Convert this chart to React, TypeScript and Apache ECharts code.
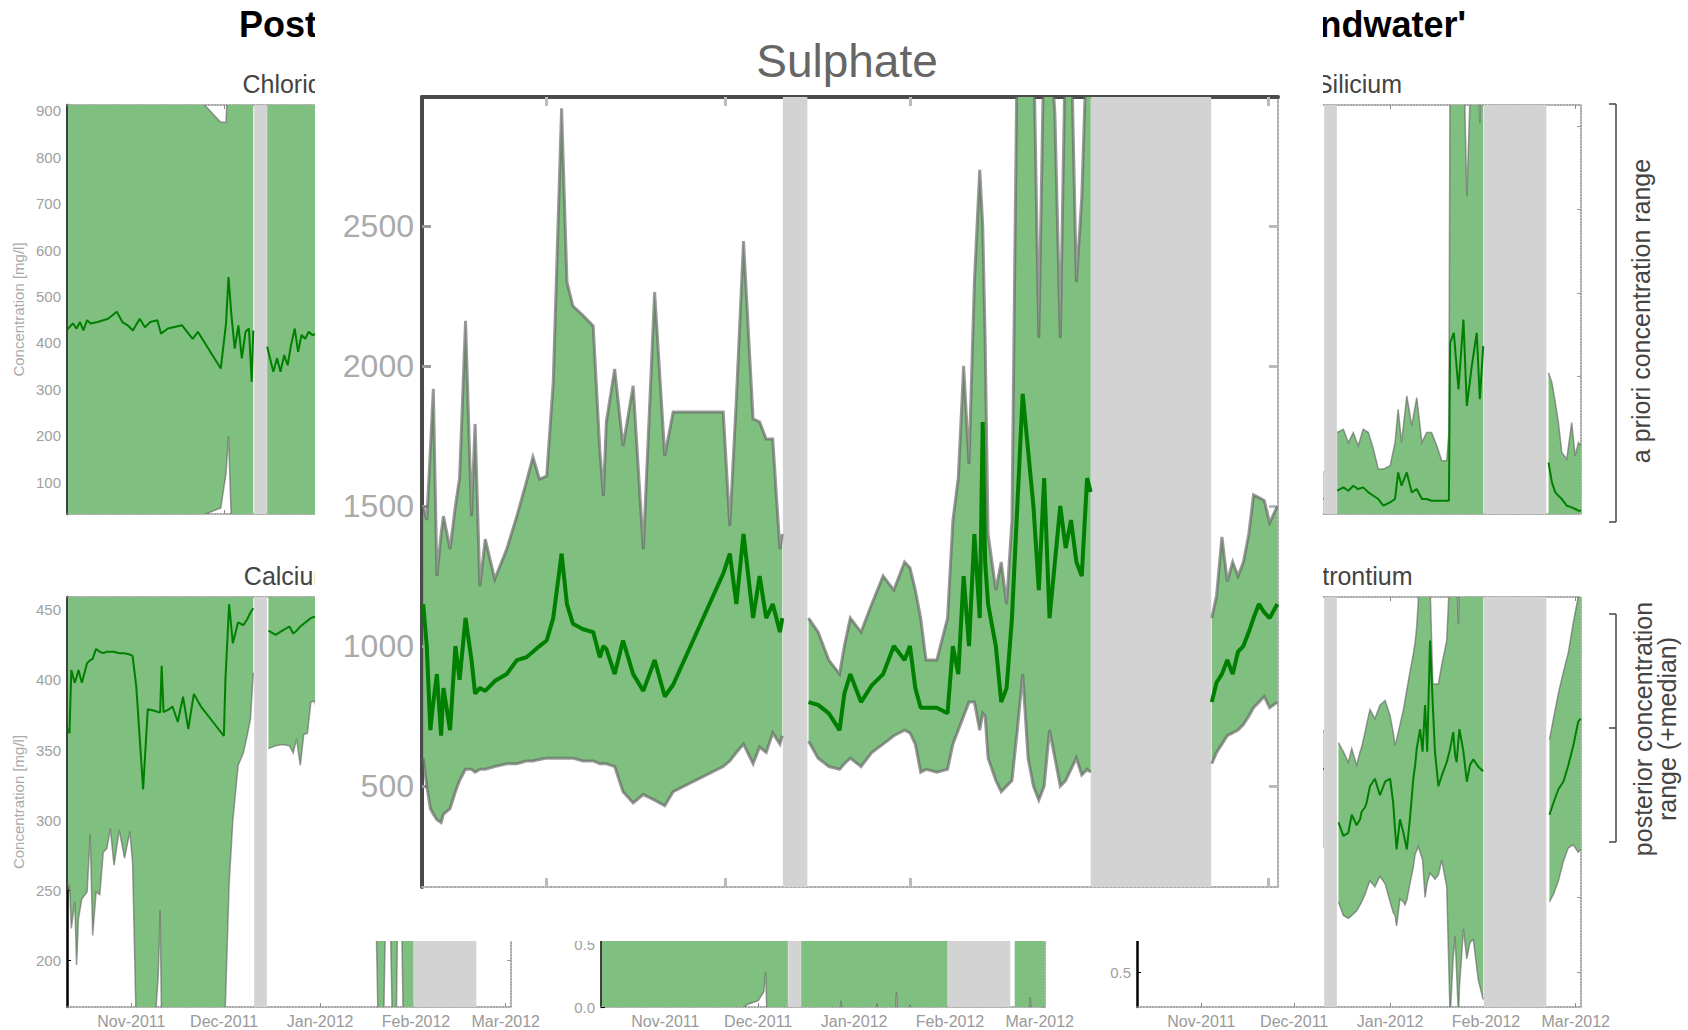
import React, { useEffect, useRef } from "react";
import * as echarts from "echarts";

const FONT = "'Liberation Sans', Arial, Helvetica, sans-serif";
const GREEN_FILL = "#7fbf7f";
const MEDIAN = "#008000";
const EDGE = "rgba(95,95,95,0.6)";
const GREY = "#d3d3d3";

// x axis: days since 2011-10-01
const xMin = 10.2;
const xMax = 153.7;
const monthDays = [31, 61, 92, 123, 152];
const monthLabels = ["Nov-2011", "Dec-2011", "Jan-2012", "Feb-2012", "Mar-2012"];
const greyStart = [70.7, 122.3];
const greyEnd = [74.8, 142.5];

// ---------------- Sulphate (overlay) ----------------
const sulTicks = [500, 1000, 1500, 2000, 2500];
const sulDays = [
  10.4, 11.0, 11.6, 12.1, 12.7, 13.4, 13.8, 14.9, 15.8, 16.5, 17.5, 18.5, 19.1, 19.9, 20.8, 22.4, 24.4, 26.1, 27.7, 28.8,
  29.9, 31.1, 32.2, 33.6, 34.5, 35.5, 37.2, 38.9, 40.0, 40.6, 41.1, 42.5, 43.9, 45.6, 47.3, 49.2, 50.9, 52.3, 60.7, 61.8,
  62.9, 64.1, 65.7, 66.8, 67.9, 69.0, 70.2, 70.6,
  72.7,
  75.0, 76.6, 78.4, 80.2, 81.0, 82.0, 83.8, 85.6, 87.5, 89.3, 91.1, 92.0, 92.9, 93.8, 94.7, 96.5, 98.3, 99.2, 100.1, 101.0,
  101.9, 102.8, 103.7, 104.2, 104.6, 105.1, 106.4, 107.3, 108.2, 109.1, 110.0, 110.9, 111.8, 112.7, 113.6, 114.5, 115.4,
  116.3, 117.2, 118.1, 119.0, 119.9, 120.8, 121.7, 122.3,
  132.0,
  142.6, 143.4, 144.3, 145.2, 146.1, 147.0, 147.9, 148.8, 149.6, 150.5, 151.4, 152.3, 153.6,
];
const sulLo = [
  600, 500, 420, 400, 380, 370, 400, 420, 480, 520, 560, 560, 550, 560, 560, 570, 580, 580, 590, 590,
  595, 600, 600, 600, 600, 600, 590, 590, 580, 580, 580, 570, 480, 440, 470, 450, 430, 480, 570, 590,
  620, 650, 580, 640, 620, 690, 650, 680,
  null,
  660, 600, 570, 560, 580, 600, 570, 620, 650, 680, 700, 690, 650, 550, 560, 550, 560, 650, 700, 750,
  800, 800, 700, 760, 750, 600, 520, 480, 500, 520, 700, 900, 600, 500, 450, 500, 700,
  600, 500, 520, 560, 600, 540, 560, 550,
  null,
  580, 620, 650, 680, 690, 700, 720, 750, 780, 800, 820, 780, 800,
];
const sulMed = [
  1150, 1000, 700, 800, 900, 680, 850, 700, 1000, 880, 1100, 950, 830, 850, 840, 875, 900, 950, 960, 980,
  1000, 1020, 1100, 1330, 1150, 1080, 1060, 1050, 960, 1000, 990, 900, 1020, 900, 840, 950, 820, 862, 1259, 1330,
  1150, 1400, 1100, 1250, 1100, 1150, 1050, 1100,
  null,
  800, 790, 760, 700, 830, 900, 800, 860, 900, 1000, 950, 1000, 850, 780, 780, 780, 760, 1000, 900, 1250,
  1000, 1400, 1100, 1800, 1300, 1150, 1000, 800, 850, 1100, 1500, 1900, 1700, 1500, 1200, 1600, 1100,
  1300, 1500, 1350, 1450, 1300, 1250, 1600, 1550,
  null,
  800, 870, 900, 950, 900, 980, 1000, 1050, 1100, 1150, 1120, 1100, 1150,
];
const sulHi = [
  1500, 1450, 1700, 1918, 1250, 1400, 1464, 1346, 1500, 1600, 2161, 1464, 1793, 1214, 1382, 1239, 1346, 1464, 1586, 1675,
  1596, 1607, 1943, 2920, 2300, 2214, 2180, 2143, 1704, 1536, 1800, 1989, 1714, 1929, 1346, 2264, 1679, 1836, 1836, 1429,
  1882, 2446, 1811, 1800, 1739, 1739, 1346, 1400,
  null,
  1100, 1050, 950, 900, 1000, 1100, 1050, 1150, 1250, 1200, 1300, 1280, 1200, 1100, 950, 950, 1100, 1450, 1600, 2000,
  1650, 2300, 2700, 2500, 2100, 1400, 1200, 1300, 1150, 1450, 3200, 3200, 3200, 3200, 2100, 3200, 3200,
  2900, 2100, 3200, 3200, 2300, 2600, 3200, 3200,
  null,
  1100, 1180, 1390, 1230, 1300, 1250, 1300, 1400, 1540, 1530, 1520, 1440, 1500,
];

// ---------------- Chloride ----------------
const chlTicks = [100, 200, 300, 400, 500, 600, 700, 800, 900];
const chlDays = [
  10.4, 11.0, 12.1, 13.3, 14.4, 15.5, 16.7, 17.8, 20.1, 23.5, 26.3, 28.1, 29.8, 31.5, 33.7, 35.4, 37.1, 39.4, 40.6, 42.8,
  47.4, 50.8, 52.5, 54.2, 59.9, 61.6, 62.4, 63.3, 64.4, 65.6, 66.7, 67.9, 69.0, 69.9, 70.4,
  72.7,
  74.9, 75.8, 76.9, 78.1, 79.2, 80.4, 81.5, 82.6, 83.8, 84.9, 86.0, 87.2, 88.3, 89.5, 91.0,
];
const chlLo = [
  20, 20, 20, 20, 20, 20, 20, 20, 20, 20, 20, 20, 20, 20, 20, 20, 20, 20, 20, 20,
  20, 20, 20, 30, 45, 120, 200, 20, 20, 20, 20, 20, 20, 20, 20,
  null,
  20, 20, 20, 20, 20, 20, 20, 20, 20, 20, 20, 20, 20, 20, 20,
];
const chlMed = [
  430, 434, 442, 431, 445, 427, 449, 442, 445, 452, 467, 445, 438, 427, 452, 434, 445, 449, 420, 431,
  438, 409, 424, 406, 345, 442, 542, 463, 388, 438, 367, 424, 431, 316, 427,
  null,
  392, 367, 338, 367, 338, 374, 352, 395, 431, 381, 417, 409, 424, 417, 420,
];
const chlHi = [
  1000, 1000, 1000, 1000, 1000, 1000, 1000, 1000, 1000, 1000, 1000, 1000, 1000, 1000, 1000, 1000, 1000, 1000, 1000, 1000,
  1000, 1000, 1000, 915, 875, 875, 1000, 1000, 1000, 1000, 1000, 1000, 1000, 1000, 1000,
  null,
  1000, 1000, 1000, 1000, 1000, 1000, 1000, 1000, 1000, 1000, 1000, 1000, 1000, 1000, 1000,
];

// ---------------- Calcium ----------------
const calTicks = [200, 250, 300, 350, 400, 450];
const calDays = [
  10.4, 11.0, 11.6, 12.7, 13.3, 13.9, 15.0, 16.7, 17.7, 18.5, 19.6, 20.8, 21.9, 23.1, 24.2, 25.4, 27.1, 28.8, 30.5, 31.4,
  32.6, 34.8, 36.3, 38.5, 39.7, 40.3, 40.8, 41.4, 43.1, 44.3, 46.0, 47.7, 49.4, 51.2, 53.5, 60.9, 61.4, 62.6, 63.8, 65.5,
  67.2, 68.4, 69.5, 70.4,
  72.7,
  75.3, 77.6, 79.8, 82.1, 83.3, 84.4, 85.6, 86.7, 87.9, 89.0, 90.2, 93.0, 97.0, 101.0, 105.0, 108.0, 110.0, 110.8, 112.5, 113.2,
  114.6, 115.4, 116.6, 117.1, 118.3, 118.9, 122.2,
  132.0,
  142.6, 146.0, 150.0, 153.6,
];
const calLo = [
  250, 254, 223, 242, 197, 230, 244, 249, 290, 218, 249, 247, 277, 280, 294, 268, 293, 273, 292, 270,
  150, 150, 150, 150, 190, 236, 150, 150, 150, 150, 160, 150, 160, 150, 160, 150, 170, 255, 300, 339,
  348, 360, 372, 405,
  null,
  351, 353, 354, 353, 348, 358, 339, 361, 362, 384, 385, 360, 340, 320, 300, 280, 240, 150, 150, 240,
  240, 150, 150, 240, 240, 150, 150,
  null,
  330, 320, 310, 300,
];
const calMed = [
  365, 362, 407, 398, 402, 407, 398, 412, 414, 415, 422, 420, 419, 420, 420, 420, 419, 419, 418, 417,
  395, 322, 379, 378, 377, 377, 410, 377, 379, 381, 370, 388, 365, 390, 381, 360, 400, 454, 426, 441,
  439, 443, 448, 451,
  null,
  435, 432, 435, 438, 433, 435, 438, 440, 442, 444, 445, 440, 438, 436, 440, 442, 440, 440, 442, 440,
  438, 436, 440, 438, 440, 442, 445,
  null,
  440, 438, 442, 445,
];
const calHi = [
  480, 480, 480, 480, 480, 480, 480, 480, 480, 480, 480, 480, 480, 480, 480, 480, 480, 480, 480, 480,
  480, 480, 480, 480, 480, 480, 480, 480, 480, 480, 480, 480, 480, 480, 480, 480, 480, 480, 480, 480,
  480, 480, 480, 480,
  null,
  480, 480, 480, 480, 480, 480, 480, 480, 480, 480, 480, 480, 480, 480, 480, 480, 480, 480, 480, 480,
  480, 480, 480, 480, 480, 480, 480,
  null,
  480, 480, 480, 480,
];

// ---------------- middle lower panel ----------------
const midTicks = [0, 0.5, 1.0, 1.5, 2.0, 2.5, 3.0];
const midDays = [
  10.4, 54.0, 57.5, 61.0, 62.8, 63.4, 63.8, 70.6,
  72.7,
  74.9, 87.4, 87.8, 88.2, 99.0, 99.4, 99.8, 105.3, 105.7, 106.1, 109.7, 110.0, 110.3, 122.2,
  132.0,
  143.9, 148.5, 148.9, 149.3, 153.6,
];
const midLo = [
  -0.05, -0.05, 0.02, 0.05, 0.12, 0.28, -0.05, -0.05,
  null,
  -0.05, -0.05, 0.05, -0.05, -0.05, 0.03, -0.05, -0.05, 0.12, -0.05, -0.05, 0.02, -0.05, -0.05,
  null,
  -0.05, -0.05, 0.08, -0.05, -0.05,
];
const midMed = [
  1.3, 1.2, 1.1, 1.0, 1.2, 1.4, 1.1, 1.2,
  null,
  1.1, 1.0, 1.2, 1.1, 0.9, 1.0, 1.1, 1.2, 1.3, 1.1, 1.0, 1.1, 1.2, 1.1,
  null,
  1.0, 1.1, 1.2, 1.1, 1.0,
];
const midHi = [
  3.0, 2.8, 2.5, 2.2, 2.4, 2.9, 2.6, 2.8,
  null,
  2.4, 2.2, 2.5, 2.3, 2.1, 2.2, 2.4, 2.6, 2.8, 2.5, 2.3, 2.4, 2.6, 2.5,
  null,
  2.2, 2.4, 2.5, 2.3, 2.2,
];

// ---------------- Silicium ----------------
const siTicks = [5, 10, 15, 20, 25];
const siDays = [
  60.0, 66.0, 70.5,
  72.7,
  74.9, 76.9, 78.5, 80.1, 81.7, 83.3, 85.0, 86.6, 88.2, 89.8, 92.0, 93.6, 94.6, 95.7, 97.4, 99.0, 100.6, 102.3, 103.8, 105.4,
  107.1, 108.7, 110.3, 111.0, 111.4, 112.6, 114.1, 115.7, 116.8, 118.4, 120.0, 121.0, 122.1,
  132.0,
  143.2, 144.3, 145.4, 146.4, 147.5, 149.1, 150.7, 151.8, 152.9, 153.7,
];
const siLo = [
  1.0, 1.0, 1.0,
  null,
  1.0, 1.0, 1.0, 1.0, 1.0, 1.0, 1.0, 1.0, 1.0, 1.0, 1.0, 1.0, 1.0, 1.0, 1.0, 1.0, 1.0, 1.0, 1.0, 1.0,
  1.0, 1.0, 1.0, 1.0, 1.0, 1.0, 1.0, 1.0, 1.0, 1.0, 1.0, 1.0, 1.0,
  null,
  1.0, 1.0, 1.0, 1.0, 1.0, 1.0, 1.0, 1.0, 1.0, 1.0,
];
const siMed = [
  3.0, 2.8, 2.6,
  null,
  3.1, 3.3, 3.1, 3.4, 3.2, 3.3, 3.0, 2.8, 2.6, 2.2, 2.4, 2.6, 4.2, 3.4, 4.2, 3.0, 3.2, 2.6, 2.6, 2.5,
  2.5, 2.5, 2.5, 2.5, 12.0, 12.6, 9.2, 13.4, 8.2, 10.6, 12.6, 8.6, 11.8,
  null,
  4.8, 3.6, 3.0, 2.8, 2.6, 2.2, 2.1, 2.0, 1.9, 1.9,
];
const siHi = [
  6.5, 5.0, 4.2,
  null,
  6.6, 6.8, 6.0, 6.6, 5.8, 6.8, 6.6, 5.6, 4.4, 4.4, 4.6, 6.0, 8.0, 6.0, 8.8, 7.0, 8.7, 6.0, 6.6, 6.6,
  5.8, 4.9, 4.9, 6.6, 30, 30, 30, 30, 20.8, 30, 30, 25.2, 30,
  null,
  10.2, 9.6, 8.4, 7.2, 5.4, 5.0, 7.2, 5.2, 6.0, 5.8,
];

// ---------------- Strontium ----------------
const srTicks = [0.5, 1.0, 1.5, 2.0, 2.5, 3.0];
const srDays = [
  60.0, 66.0, 70.5,
  72.7,
  75.3, 76.9, 78.5, 79.6, 81.2, 82.3, 82.8, 83.9, 84.4, 85.5, 87.1, 88.7, 90.4, 92.0, 93.0, 93.6, 94.1, 95.2, 96.3, 96.8,
  97.4, 98.4, 99.5, 100.1, 100.6, 101.1, 101.7, 102.5, 103.3, 104.0, 104.9, 105.8, 106.5, 107.6, 108.7, 110.3, 111.4, 112.4,
  113.0, 113.5, 114.1, 114.4, 115.7, 116.8, 117.8, 118.9, 120.5, 122.1,
  132.0,
  143.5, 144.8, 146.4, 148.0, 149.6, 151.2, 152.8, 153.6,
];
const srLo = [
  1.2, 1.25, 1.34,
  null,
  0.97, 0.88, 0.86, 0.88, 0.91, 0.95, 0.97, 1.02, 1.05, 1.11, 1.07, 1.14, 1.09, 0.97, 0.9, 0.88, 0.81, 0.99, 0.97, 0.95,
  0.98, 1.09, 1.2, 1.29, 1.31, 1.34, 1.3, 1.25, 1.0, 1.1, 1.16, 1.14, 1.12, 1.15, 1.25, 1.07, 0.2, 0.6,
  0.74, 0.5, 0.2, 0.4, 0.79, 0.59, 0.7, 0.72, 0.45, 0.32,
  null,
  0.97, 1.02, 1.11, 1.24, 1.33, 1.35, 1.3, 1.32,
];
const srMed = [
  1.9, 1.95, 1.85,
  null,
  1.5, 1.41, 1.43, 1.55, 1.48, 1.52, 1.57, 1.6, 1.63, 1.74, 1.79, 1.68, 1.77, 1.79, 1.63, 1.45, 1.32, 1.52, 1.43, 1.38,
  1.32, 1.52, 1.79, 1.88, 1.99, 2.05, 2.12, 1.97, 2.28, 1.97, 2.71, 2.28, 1.97, 1.74, 1.81, 1.9, 1.99, 2.1,
  1.95, 1.9, 2.05, 2.12, 1.97, 1.77, 1.88, 1.92, 1.87, 1.84,
  null,
  1.55, 1.63, 1.72, 1.77, 1.88, 2.01, 2.17, 2.19,
];
const srHi = [
  2.4, 2.3, 2.1,
  null,
  2.03, 1.97, 1.9, 1.99, 1.88, 1.97, 2.0, 2.1, 2.15, 2.25, 2.19, 2.28, 2.31, 2.21, 2.1, 2.01, 2.05, 2.15, 2.25, 2.31,
  2.38, 2.5, 2.62, 2.7, 2.8, 2.97, 3.2, 3.2, 3.2, 3.2, 3.1, 2.42, 2.42, 2.42, 2.55, 2.71, 3.2, 3.2,
  3.2, 3.1, 2.82, 3.2, 3.2, 3.2, 3.2, 3.2, 3.2, 3.2,
  null,
  2.05, 2.19, 2.36, 2.5, 2.63, 2.83, 3.0, 3.1,
];

// ---------------- helpers ----------------
type Num = number | null;

function splitSegments(days: number[], lo: Num[], hi: Num[]) {
  const segs: number[][][] = [];
  let cur: number[][] = [];
  days.forEach((d, i) => {
    if (lo[i] == null || hi[i] == null) {
      if (cur.length) segs.push(cur);
      cur = [];
    } else {
      cur.push([d, lo[i] as number, hi[i] as number]);
    }
  });
  if (cur.length) segs.push(cur);
  return segs;
}

function bandSeries(days: number[], lo: Num[], hi: Num[], xi: number, yi: number, edgeW: number, edgeColor: string) {
  const segs = splitSegments(days, lo, hi);
  return {
    type: "custom",
    xAxisIndex: xi,
    yAxisIndex: yi,
    silent: true,
    clip: true,
    z: 2,
    encode: { x: 0, y: 1 },
    data: segs.map((s) => [s[0][0], s[0][1]]),
    renderItem: (params: any, api: any) => {
      const s = segs[params.dataIndex];
      const top = s.map((r) => api.coord([r[0], r[2]]));
      const bot = s.map((r) => api.coord([r[0], r[1]]));
      const poly = top.concat(bot.slice().reverse());
      return {
        type: "group",
        children: [
          { type: "polygon", shape: { points: poly }, style: { fill: GREEN_FILL, stroke: "none" } },
          { type: "polyline", shape: { points: top }, style: { stroke: edgeColor, lineWidth: edgeW, fill: "none" } },
          { type: "polyline", shape: { points: bot }, style: { stroke: edgeColor, lineWidth: edgeW, fill: "none" } },
        ],
      };
    },
  };
}

function medianSeries(days: number[], med: Num[], xi: number, yi: number, width: number) {
  return {
    type: "line",
    xAxisIndex: xi,
    yAxisIndex: yi,
    silent: true,
    clip: true,
    z: 3,
    symbol: "none",
    connectNulls: false,
    lineStyle: { color: MEDIAN, width },
    data: days.map((d, i) => [d, med[i] == null ? "-" : med[i]]),
    markArea: {
      silent: true,
      itemStyle: { color: GREY },
      data: greyStart.map((a, k) => [{ xAxis: a }, { xAxis: greyEnd[k] }]),
    },
  };
}

const monthFmt = (v: number) => {
  const k = monthDays.indexOf(Math.round(v));
  return k >= 0 ? monthLabels[k] : "";
};

// ---------------- background figure ----------------
const colLeft = [67, 601, 1137];
const colWidth = 444;
const rowTop = [105, 597];
const rowHeight = [409, 410];

const panels = [
  { title: "Chloride", col: 0, row: 0, min: 32, max: 912, ticks: chlTicks, digits: 0, yLabels: true, xLabels: false, days: chlDays, lo: chlLo, med: chlMed, hi: chlHi },
  { title: "Calcium", col: 0, row: 1, min: 167, max: 459, ticks: calTicks, digits: 0, yLabels: true, xLabels: true, days: calDays, lo: calLo, med: calMed, hi: calHi },
  { title: "", col: 1, row: 1, min: 0, max: 3.26, ticks: midTicks, digits: 1, yLabels: true, xLabels: true, days: midDays, lo: midLo, med: midMed, hi: midHi },
  { title: "Silicium", col: 2, row: 0, min: 1.7, max: 26.3, ticks: siTicks, digits: 0, yLabels: false, xLabels: false, days: siDays, lo: siLo, med: siMed, hi: siHi },
  { title: "Strontium", col: 2, row: 1, min: 0.27, max: 3.0, ticks: srTicks, digits: 1, yLabels: true, xLabels: true, days: srDays, lo: srLo, med: srMed, hi: srHi },
];

function buildBackground() {
  const grid: any[] = [];
  const xAxis: any[] = [];
  const yAxis: any[] = [];
  const series: any[] = [];
  const elements: any[] = [];
  const dotted = { color: "#8a8a8a", width: 1.5, type: "dotted" };

  panels.forEach((p, i) => {
    grid.push({
      left: colLeft[p.col],
      top: rowTop[p.row],
      width: colWidth,
      height: rowHeight[p.row],
      containLabel: false,
      outerBoundsMode: "none",
      show: false,
    });
    xAxis.push({
      type: "value", gridIndex: i, min: xMin, max: xMax, position: "bottom",
      axisLine: { show: true, onZero: false, lineStyle: dotted },
      axisTick: { show: true, inside: true, length: 4, customValues: monthDays, lineStyle: { color: "#888" } },
      axisLabel: { show: p.xLabels, customValues: monthDays, formatter: monthFmt, color: "#999", fontSize: 16, fontFamily: FONT, margin: 6 },
      splitLine: { show: false },
    });
    xAxis.push({
      type: "value", gridIndex: i, min: xMin, max: xMax, position: "top",
      axisLine: { show: true, onZero: false, lineStyle: dotted },
      axisTick: { show: true, inside: true, length: 4, customValues: monthDays, lineStyle: { color: "#888" } },
      axisLabel: { show: false },
      splitLine: { show: false },
    });
    yAxis.push({
      type: "value", gridIndex: i, min: p.min, max: p.max, position: "left",
      axisLine: { show: true, onZero: false, lineStyle: { color: "#000", width: 2.5 } },
      axisTick: { show: true, inside: true, length: 4, customValues: p.ticks, lineStyle: { color: "#000" } },
      axisLabel: {
        show: p.yLabels, customValues: p.ticks, color: "#a0a0a0", fontSize: 15, fontFamily: FONT, margin: 6,
        formatter: (v: number) => v.toFixed(p.digits),
      },
      splitLine: { show: false },
    });
    yAxis.push({
      type: "value", gridIndex: i, min: p.min, max: p.max, position: "right",
      axisLine: { show: true, onZero: false, lineStyle: dotted },
      axisTick: { show: true, inside: true, length: 4, customValues: p.ticks, lineStyle: { color: "#999" } },
      axisLabel: { show: false },
      splitLine: { show: false },
    });
    series.push(bandSeries(p.days, p.lo, p.hi, 2 * i, 2 * i, 1.5, EDGE));
    series.push(medianSeries(p.days, p.med, 2 * i, 2 * i, 2));

    if (p.title) {
      elements.push({
        type: "text",
        x: colLeft[p.col] + colWidth / 2,
        y: p.row === 0 ? 84 : 576,
        style: { text: p.title, fontSize: 25, fontFamily: FONT, fill: "#444", align: "center", verticalAlign: "middle", textAlign: "center", textVerticalAlign: "middle" },
      });
    }
    if (p.col === 0) {
      elements.push({
        type: "text",
        x: 18,
        y: rowTop[p.row] + rowHeight[p.row] / 2,
        rotation: Math.PI / 2,
        style: { text: "Concentration [mg/l]", fontSize: 15, fontFamily: FONT, fill: "#aaa", align: "center", verticalAlign: "middle", textAlign: "center", textVerticalAlign: "middle" },
      });
    }
  });

  // figure title (its middle is covered by the zoomed panel)
  elements.push({
    type: "text", x: 239, y: 24,
    style: { text: "Posterior concentration", fontSize: 36, fontWeight: "bold", fontFamily: FONT, fill: "#000", align: "left", verticalAlign: "middle", textAlign: "left", textVerticalAlign: "middle" },
  });
  elements.push({
    type: "text", x: 1466, y: 24,
    style: { text: "ranges for 'groundwater'", fontSize: 36, fontWeight: "bold", fontFamily: FONT, fill: "#000", align: "right", verticalAlign: "middle", textAlign: "right", textVerticalAlign: "middle" },
  });

  // right-hand annotation brackets
  const bx = 1616;
  const lineStyle = { stroke: "#444", lineWidth: 1.5 };
  const addLine = (x1: number, y1: number, x2: number, y2: number) =>
    elements.push({ type: "line", shape: { x1, y1, x2, y2 }, style: lineStyle });
  addLine(bx, 104, bx, 522);
  addLine(bx - 7, 104, bx, 104);
  addLine(bx - 7, 522, bx, 522);
  addLine(bx, 614, bx, 842);
  addLine(bx - 7, 614, bx, 614);
  addLine(bx - 7, 842, bx, 842);
  addLine(bx - 7, 728, bx, 728);
  const rotText = (text: string, x: number, y: number) =>
    elements.push({
      type: "text", x, y, rotation: Math.PI / 2,
      style: { text, fontSize: 25, fontFamily: FONT, fill: "#444", align: "center", verticalAlign: "middle", textAlign: "center", textVerticalAlign: "middle" },
    });
  rotText("a priori concentration range", 1641, 311);
  rotText("posterior concentration", 1643, 729);
  rotText("range (+median)", 1667, 729);

  return {
    animation: false,
    backgroundColor: "#fff",
    grid, xAxis, yAxis, series,
    graphic: { elements },
  };
}

// ---------------- Sulphate overlay ----------------
function buildOverlay() {
  const dark = { color: "#4a4a4a", width: 4 };
  const light = { color: "#aaa", width: 2, type: "dotted" };
  return {
    animation: false,
    backgroundColor: "#fff",
    grid: { left: 107, top: 97, width: 856, height: 790, containLabel: false, outerBoundsMode: "none", show: false },
    xAxis: [
      {
        type: "value", min: xMin, max: xMax, position: "bottom",
        axisLine: { show: true, onZero: false, lineStyle: light },
        axisTick: { show: true, inside: true, length: 9, customValues: monthDays, lineStyle: { color: "#bbb", width: 3 } },
        axisLabel: { show: false },
        splitLine: { show: false },
      },
      {
        type: "value", min: xMin, max: xMax, position: "top",
        axisLine: { show: true, onZero: false, lineStyle: dark },
        axisTick: { show: true, inside: true, length: 9, customValues: monthDays, lineStyle: { color: "#bbb", width: 3 } },
        axisLabel: { show: false },
        splitLine: { show: false },
      },
    ],
    yAxis: [
      {
        type: "value", min: 140, max: 2960, position: "left",
        axisLine: { show: true, onZero: false, lineStyle: dark },
        axisTick: { show: true, inside: true, length: 9, customValues: sulTicks, lineStyle: { color: "#999", width: 3 } },
        axisLabel: {
          show: true, customValues: sulTicks, color: "#aaa", fontSize: 32, fontFamily: FONT, margin: 8,
          formatter: (v: number) => String(Math.round(v)),
        },
        splitLine: { show: false },
      },
      {
        type: "value", min: 140, max: 2960, position: "right",
        axisLine: { show: true, onZero: false, lineStyle: light },
        axisTick: { show: true, inside: true, length: 9, customValues: sulTicks, lineStyle: { color: "#bbb", width: 3 } },
        axisLabel: { show: false },
        splitLine: { show: false },
      },
    ],
    series: [
      bandSeries(sulDays, sulLo, sulHi, 0, 0, 3, "rgba(100,100,100,0.65)"),
      medianSeries(sulDays, sulMed, 0, 0, 4),
    ],
    graphic: {
      elements: [
        {
          type: "text", x: 532, y: 61,
          style: { text: "Sulphate", fontSize: 46, fontFamily: FONT, fill: "#666", align: "center", verticalAlign: "middle", textAlign: "center", textVerticalAlign: "middle" },
        },
      ],
    },
  };
}

export default function App() {
  const bgRef = useRef<HTMLDivElement>(null);
  const ovRef = useRef<HTMLDivElement>(null);
  useEffect(() => {
    document.body.style.margin = "0";
    const bg = echarts.init(bgRef.current as HTMLDivElement, undefined, { renderer: "svg" });
    bg.setOption(buildBackground() as any);
    const ov = echarts.init(ovRef.current as HTMLDivElement, undefined, { renderer: "svg" });
    ov.setOption(buildOverlay() as any);
    return () => {
      bg.dispose();
      ov.dispose();
    };
  }, []);
  return (
    <div style={{ position: "fixed", left: 0, top: 0, width: 1688, height: 1030, background: "#fff" }}>
      <div ref={bgRef} style={{ position: "absolute", left: 0, top: 0, width: 1688, height: 1030 }} />
      <div ref={ovRef} style={{ position: "absolute", left: 315, top: 0, width: 1008, height: 941, background: "#fff" }} />
    </div>
  );
}
